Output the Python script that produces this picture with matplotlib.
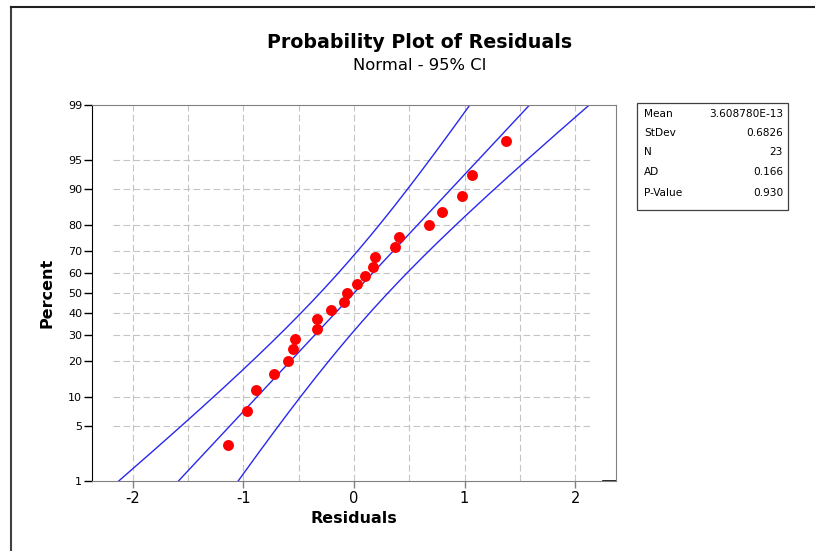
import numpy as np
import matplotlib
matplotlib.use("Agg")
import matplotlib.pyplot as plt
from statistics import NormalDist

# ---- data ----
residuals = [-1.139, -0.972, -0.882, -0.725, -0.601, -0.549, -0.531, -0.338,
             -0.332, -0.211, -0.088, -0.066, 0.030, 0.100, 0.175, 0.187,
             0.371, 0.408, 0.679, 0.794, 0.975, 1.063, 1.374]
stat_names = ["Mean", "StDev", "N", "AD", "P-Value"]
stat_values = ["3.608780E-13", "0.6826", "23", "0.166", "0.930"]
mean_val = 3.608780e-13
sd_val = 0.6826
n_val = 23
# variance coefficients of the percentile CI band
ci_var_mu = 0.0526
ci_var_sigma = 0.0204
y_ticks = [1, 5, 10, 20, 30, 40, 50, 60, 70, 80, 90, 95, 99]
x_ticks = [-2, -1, 0, 1, 2]

nd = NormalDist()
_ppf = np.vectorize(lambda p: nd.inv_cdf(min(max(p / 100.0, 1e-9), 1 - 1e-9)),
                    otypes=[float])
_cdf = np.vectorize(lambda z: nd.cdf(z) * 100.0, otypes=[float])


def fwd(p):
    return _ppf(np.asarray(p, dtype=float))


def inv(z):
    return _cdf(np.asarray(z, dtype=float))


plt.rcParams['font.family'] = ['DejaVu Sans']
fig = plt.figure(figsize=(8.15, 5.51), dpi=100)
ax = fig.add_axes([92 / 815, 1 - 481 / 551, 524 / 815, 376 / 551])
ax.set_yscale('function', functions=(fwd, inv))
ax.set_xlim(-2.37, 2.37)
ax.set_ylim(1, 99)

# grid
for gx in np.arange(-2, 2.01, 0.5):
    ax.axvline(gx, color='#c4c4c4', lw=0.8, ls=(0, (6, 3)), zorder=0)
for gy in y_ticks[1:-1]:
    ax.axhline(gy, xmin=0.04, xmax=0.952, color='#c4c4c4', lw=0.8,
               ls=(0, (6, 3)), zorder=0)

# fitted line and CI
zz = np.linspace(nd.inv_cdf(0.01), nd.inv_cdf(0.99), 200)
pp = _cdf(zz)
xfit = mean_val + sd_val * zz
se = sd_val * np.sqrt(ci_var_mu + ci_var_sigma * zz ** 2)
ax.plot(xfit, pp, color='#2828f0', lw=1)
ax.plot(xfit - 1.96 * se, pp, color='#2828f0', lw=1)
ax.plot(xfit + 1.96 * se, pp, color='#2828f0', lw=1)

# points (median ranks)
xs = np.sort(residuals)
ranks = (np.arange(1, len(xs) + 1) - 0.3) / (len(xs) + 0.4) * 100
ax.scatter(xs, ranks, s=62, color='#ff0000', zorder=3, linewidths=0)

ax.set_yticks(y_ticks)
ax.set_yticklabels([str(t) for t in y_ticks])
ax.yaxis.set_minor_locator(matplotlib.ticker.NullLocator())
ax.set_xticks(x_ticks)
ax.set_xticklabels([str(t) for t in x_ticks])
ax.tick_params(axis='y', labelsize=8, length=6, width=1, pad=1)
ax.tick_params(axis='x', labelsize=10.5, length=5, width=1, color='#808080', pad=2)

for s in ['top', 'right', 'bottom']:
    ax.spines[s].set_color('#808080')
ax.spines['left'].set_color('black')
ax.plot([0.975, 1.0], [0, 0], transform=ax.transAxes, color='black', lw=1.2,
        clip_on=False)

ax.set_xlabel('Residuals', fontsize=11.5, fontweight='bold', labelpad=4)
ax.set_ylabel('Percent', fontsize=11.5, fontweight='bold', labelpad=10)

fig.text(0.515, 1 - 43 / 551, 'Probability Plot of Residuals', ha='center',
         va='center', fontsize=13.7, fontweight='bold')
fig.text(0.515, 1 - 66 / 551, 'Normal - 95% CI', ha='center', va='center',
         fontsize=11.8)

# stats box
bx0, bx1, by0, by1 = 637, 788, 103, 210
fig.patches.append(matplotlib.patches.Rectangle(
    (bx0 / 815, 1 - by1 / 551), (bx1 - bx0) / 815, (by1 - by0) / 551,
    transform=fig.transFigure, fill=False, edgecolor='#404040', lw=0.9))
row_y = [114, 133, 152, 172, 193]
for name, val, ry in zip(stat_names, stat_values, row_y):
    fig.text(644 / 815, 1 - ry / 551, name, ha='left', va='center', fontsize=7.6)
    fig.text(783 / 815, 1 - ry / 551, val, ha='right', va='center', fontsize=7.6)

# figure border (top and left)
fig.add_artist(matplotlib.lines.Line2D([11 / 815, 11 / 815], [0, 1 - 7 / 551],
                                       color='#404040', lw=1.5))
fig.add_artist(matplotlib.lines.Line2D([11 / 815, 1], [1 - 7 / 551, 1 - 7 / 551],
                                       color='#202020', lw=1.5))

fig.savefig('out.png', dpi=100)
